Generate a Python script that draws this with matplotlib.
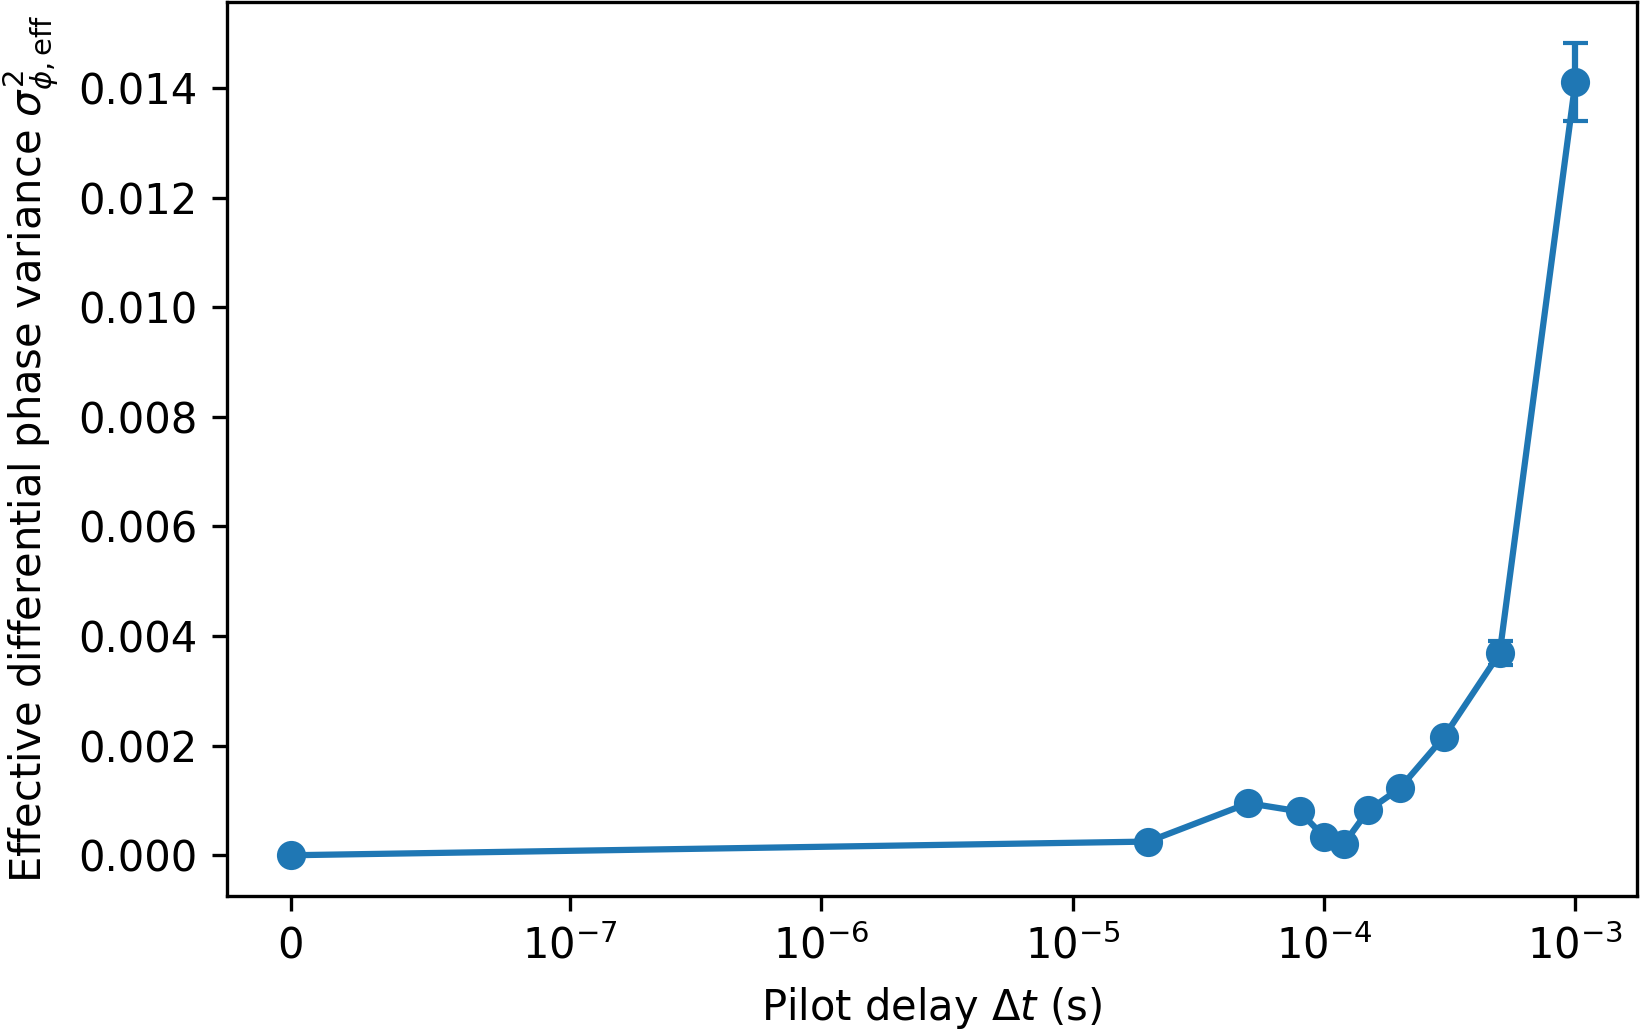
import numpy as np
import matplotlib
matplotlib.use("Agg")
from matplotlib import pyplot as plt

# pilot delay (s)
delays = [0, 2e-5, 5e-5, 8e-5, 1e-4, 1.2e-4, 1.5e-4, 2e-4, 3e-4, 5e-4, 1e-3]

# effective differential phase variance
variance = [0.0, 0.00025, 0.00095, 0.0008, 0.00034, 0.00021,
            0.00082, 0.00122, 0.00216, 0.00369, 0.01411]

# error bars
errors = [0.0, 0.00002, 0.00003, 0.00003, 0.00002, 0.00002,
          0.00003, 0.00004, 0.00006, 0.00022, 0.00071]

tick_pos = [0, 1e-7, 1e-6, 1e-5, 1e-4, 1e-3]
tick_labels = ["0", r"$10^{-7}$", r"$10^{-6}$", r"$10^{-5}$", r"$10^{-4}$", r"$10^{-3}$"]

fig = plt.figure(figsize=(1642 / 300, 1029 / 300), dpi=300)
ax = fig.add_axes([0.138, 0.129, 0.859, 0.869])

ax.errorbar(delays, variance, yerr=errors, fmt="o-", color="tab:blue",
            capsize=3)

ax.set_xscale("symlog", linthresh=1e-7)
ax.set_xticks(tick_pos)
ax.set_xticklabels(tick_labels)
ax.xaxis.set_minor_locator(matplotlib.ticker.NullLocator())
ax.set_xlim(-0.229e-7, 1.76e-3)
ax.set_ylim(-0.000748, 0.01557)
ax.set_yticks(np.arange(0, 0.0141, 0.002))
ax.yaxis.set_major_formatter(matplotlib.ticker.FormatStrFormatter("%.3f"))

ax.set_xlabel(r"Pilot delay $\Delta t$ (s)")
ax.set_ylabel(r"Effective differential phase variance $\sigma^2_{\phi,\mathrm{eff}}$")

fig.savefig("out.png", dpi=300)
